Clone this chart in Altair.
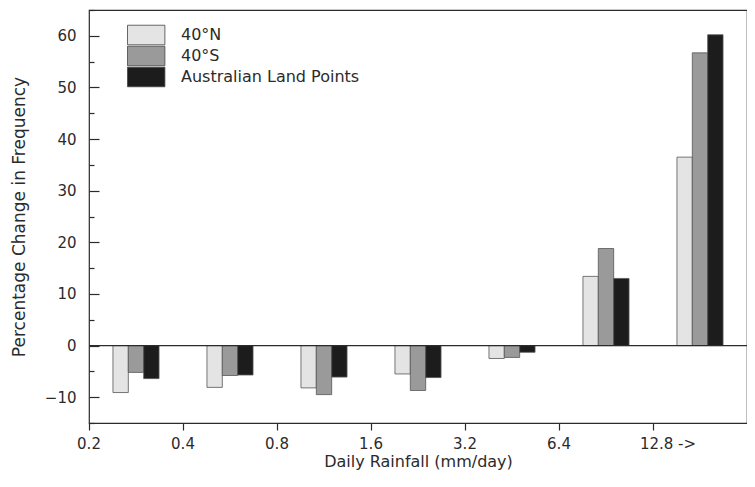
import altair as alt
import pandas as pd

# ---- data ----
bins = ["0.2", "0.4", "0.8", "1.6", "3.2", "6.4", "12.8 ->"]
series = ["40°N", "40°S", "Australian Land Points"]
north40 = [-9.1, -8.1, -8.2, -5.5, -2.5, 13.4, 36.5]
south40 = [-5.2, -5.8, -9.5, -8.7, -2.3, 18.8, 56.7]
australia = [-6.4, -5.7, -6.1, -6.2, -1.3, 13.0, 60.2]
colors = ["#e4e4e4", "#9a9a9a", "#1c1c1c"]
major_ticks = [-10, 0, 10, 20, 30, 40, 50, 60]
minor_ticks = [-15, -5, 5, 15, 25, 35, 45, 55, 65]

rows = []
for s, vals in zip(series, [north40, south40, australia]):
    for b, v in zip(bins, vals):
        rows.append({"bin": b, "series": s, "change": v})
df = pd.DataFrame(rows)
zero = pd.DataFrame({"change": [0]})

# empty slots either side of each group of three bars (layout only)
offset_domain = ["pad_left"] + series + ["pad_right"]

FONT = "DejaVu Sans"
INK = "#2b2b2b"
PLOT_W = 658
HALF_BAND = PLOT_W / len(bins) / 2

yscale = alt.Scale(domain=[-15, 65], nice=False)

bars = alt.Chart(df).mark_bar(stroke="#555555", strokeWidth=0.8).encode(
    x=alt.X(
        "bin:N",
        sort=bins,
        scale=alt.Scale(paddingInner=0, paddingOuter=0),
        axis=alt.Axis(
            title="Daily Rainfall (mm/day)",
            bandPosition=0,
            labelAngle=0,
            tickSize=7,
            labelPadding=6,
            titlePadding=2,
            titleFontSize=16,
            labelOffset={
                "condition": {"test": "datum.value === '12.8 ->'", "value": -HALF_BAND + 15},
                "value": -HALF_BAND,
            },
        ),
    ),
    xOffset=alt.XOffset(
        "series:N",
        scale=alt.Scale(domain=offset_domain, paddingInner=0, paddingOuter=0.56),
    ),
    y=alt.Y(
        "change:Q",
        scale=yscale,
        axis=alt.Axis(
            values=major_ticks,
            orient="left",
            offset=-10,
            tickSize=10,
            domain=False,
            grid=False,
            labelPadding=13,
            titlePadding=16,
            title="Percentage Change in Frequency",
        ),
    ),
    y2=alt.datum(0),
    color=alt.Color(
        "series:N",
        sort=series,
        scale=alt.Scale(domain=series, range=colors),
        legend=alt.Legend(
            title=None,
            orient="none",
            legendX=48.2,
            legendY=16,
            symbolType="M-2.2,-1.15H2.2V1.15H-2.2Z",
            symbolSize=289,
            symbolStrokeColor="#444444",
            symbolStrokeWidth=0.8,
            symbolOpacity=1,
            rowPadding=-6,
            labelOffset=25.8,
            labelFontSize=16,
            labelFont=FONT,
            labelColor=INK,
            labelLimit=400,
            padding=0,
        ),
    ),
)

zero_line = alt.Chart(zero).mark_rule(color=INK, strokeWidth=1.2).encode(
    y=alt.Y(
        "change:Q",
        scale=yscale,
        axis=alt.Axis(
            values=minor_ticks,
            orient="left",
            offset=-5,
            tickSize=5,
            labels=False,
            domain=False,
            grid=False,
            title=None,
        ),
    )
)

chart = (
    alt.layer(bars, zero_line)
    .resolve_axis(y="independent")
    .properties(
        width=PLOT_W,
        height=413,
        padding={"left": 81, "top": 2, "right": 0, "bottom": 50},
        autosize=alt.AutoSizeParams(type="none"),
    )
    .configure_view(stroke=INK, strokeWidth=1.2)
    .configure_axis(
        labelFont=FONT,
        labelFontSize=15,
        labelColor=INK,
        titleFont=FONT,
        titleFontSize=17,
        titleFontWeight="normal",
        titleColor=INK,
        tickColor=INK,
        tickWidth=1.2,
        domainColor=INK,
        domainWidth=1.2,
        grid=False,
    )
)

chart.save("out.html", embed_options={"renderer": "svg", "actions": False})
